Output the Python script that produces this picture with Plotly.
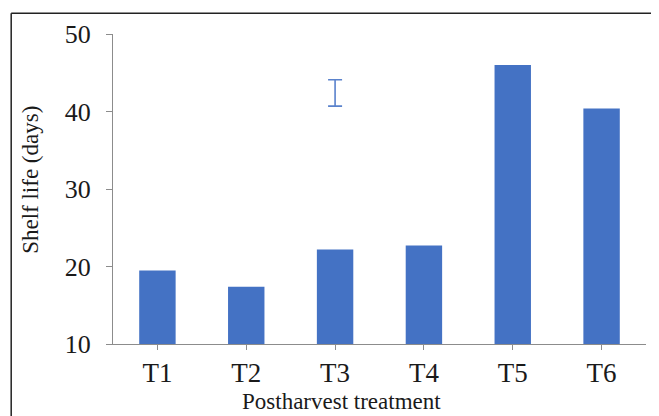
import plotly.graph_objects as go

treatments = ["T1", "T2", "T3", "T4", "T5", "T6"]
shelf_life = [19.5, 17.4, 22.2, 22.7, 46.0, 40.4]
lsd_category = ["T3"]
lsd_center = [42.4]
lsd_half = [1.7]
y_ticks = [10, 20, 30, 40, 50]
x_title = "Postharvest treatment"
y_title = "Shelf life (days)"

BLUE = "#4472C4"
FONT = "Liberation Serif"
TXT = "#1a1a1a"

fig = go.Figure()
fig.add_trace(go.Bar(
    x=treatments, y=shelf_life,
    marker=dict(color=BLUE, line=dict(width=0)),
    width=0.41,
))
fig.add_trace(go.Scatter(
    x=lsd_category, y=lsd_center, mode="markers",
    marker=dict(size=1, color="rgba(0,0,0,0)"),
    error_y=dict(type="data", array=lsd_half, visible=True,
                 color="#5a82cc", thickness=1.6, width=7),
))

# page body has an 8px margin, so the figure is sized/offset to compensate
fig.update_layout(
    width=651, height=408,
    margin=dict(l=105, r=13, t=22, b=72),
    paper_bgcolor="white", plot_bgcolor="white",
    showlegend=False,
    font=dict(family=FONT, color=TXT),
    xaxis=dict(
        showline=True, linecolor="#8c8c8c", linewidth=1,
        ticks="outside", ticklen=5, tickcolor="#8c8c8c",
        tickfont=dict(family=FONT, size=27, color=TXT),
        showgrid=False, zeroline=False,
    ),
    yaxis=dict(
        range=[10, 50], tickvals=y_ticks,
        showline=True, linecolor="#8c8c8c", linewidth=1,
        ticks="outside", ticklen=6, tickcolor="#8c8c8c",
        tickfont=dict(family=FONT, size=26, color=TXT),
        ticklabelstandoff=10,
        showgrid=False, zeroline=False,
    ),
)

fig.add_annotation(text=x_title, xref="paper", yref="paper", x=0.428, y=-0.184,
                   xanchor="center", yanchor="middle", showarrow=False,
                   font=dict(family=FONT, size=23, color=TXT))
fig.add_annotation(text=y_title, xref="paper", yref="paper", x=-0.156, y=0.529,
                   xanchor="center", yanchor="middle", showarrow=False, textangle=-90,
                   font=dict(family=FONT, size=23, color=TXT))

# outer frame
fig.add_shape(type="line", xref="paper", yref="paper", x0=-0.191, x1=-0.191, y0=-0.3, y1=1.067,
              line=dict(color="#222222", width=1.5))
fig.add_shape(type="line", xref="paper", yref="paper", x0=-0.191, x1=1.019, y0=1.067, y1=1.067,
              line=dict(color="#222222", width=1.5))
fig.add_shape(type="line", xref="paper", yref="paper", x0=1.019, x1=1.019, y0=-0.3, y1=1.067,
              line=dict(color="#888888", width=2))

fig.write_html("out.html")
